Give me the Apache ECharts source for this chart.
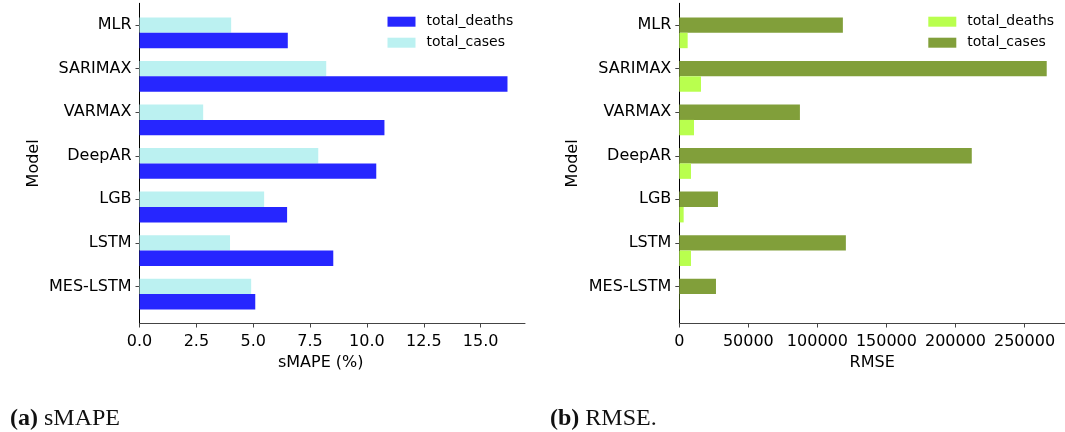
<!DOCTYPE html>
<html>
<head>
<meta charset="utf-8">
<script src="https://cdn.jsdelivr.net/npm/echarts@6/dist/echarts.min.js"></script>
<style>
  html, body { margin: 0; padding: 0; background: #fff; }
  #chart { width: 1065px; height: 432px; }
</style>
</head>
<body>
<div id="chart"></div>
<script>
// Models compared in both panels (top to bottom)
const models = ['MLR', 'SARIMAX', 'VARMAX', 'DeepAR', 'LGB', 'LSTM', 'MES-LSTM'];

// Panel (a): sMAPE (%)
const smapeDeaths = [6.52, 16.18, 10.77, 10.41, 6.49, 8.52, 5.09];
const smapeCases  = [4.03, 8.21, 2.80, 7.86, 5.48, 3.98, 4.91];

// Panel (b): RMSE
const rmseDeaths = [6050, 15700, 10640, 8470, 3160, 8470, 200];
const rmseCases  = [118450, 266060, 87340, 211790, 28000, 120620, 26560];

// Tick labels
const smapeTicks = [0, 2.5, 5, 7.5, 10, 12.5, 15];
const rmseTicks  = [0, 50000, 100000, 150000, 200000, 250000];

const FONT = 'DejaVu Sans';
const modelIdx = models.map((_, i) => i);

const panels = [
  {
    left: 139.5, width: 385.5, max: 16.95, ticks: smapeTicks,
    fmt: v => v.toFixed(1), xName: 'sMAPE (%)', namePad: [0, 23, 0, 0],
    deaths: smapeDeaths, cases: smapeCases,
    deathColor: '#2626ff', caseColor: '#bbf1f1',
    legendLeft: 387.5
  },
  {
    left: 679.3, width: 385.7, max: 279300, ticks: rmseTicks,
    fmt: v => String(v), xName: 'RMSE', namePad: [0, 0, 0, 0],
    deaths: rmseDeaths, cases: rmseCases,
    deathColor: '#b9ff4e', caseColor: '#819f3a',
    legendLeft: 928.3
  }
];

const axisTop = 3.3, axisHeight = 320.2;   // frame of the spines
const barTop = 11.0, barHeight = 304.9;    // band layout for the grouped bars

const grid = [], xAxis = [], yAxis = [], series = [], legend = [];

panels.forEach((p, k) => {
  const ga = 2 * k, gb = 2 * k + 1;
  grid.push({ left: p.left, top: axisTop, width: p.width, height: axisHeight, outerBoundsMode: 'none' });
  grid.push({ left: p.left, top: barTop, width: p.width, height: barHeight, outerBoundsMode: 'none' });

  // visible axes
  xAxis.push({
    gridIndex: ga, type: 'value', min: 0, max: p.max, position: 'bottom',
    axisLine: { show: true, onZero: false, lineStyle: { color: '#444', width: 1 } },
    axisTick: { show: true, length: 4, customValues: p.ticks, lineStyle: { color: '#444' } },
    axisLabel: { customValues: p.ticks, formatter: p.fmt, margin: 10,
                 color: '#000', fontFamily: FONT, fontSize: 16 },
    splitLine: { show: false },
    name: p.xName, nameLocation: 'middle', nameGap: 28,
    nameTextStyle: { color: '#000', fontFamily: FONT, fontSize: 16, padding: p.namePad }
  });
  yAxis.push({
    gridIndex: ga, type: 'value', inverse: true, min: -0.5, max: 6.85, position: 'left',
    axisLine: { show: true, onZero: false, lineStyle: { color: '#000', width: 1 } },
    axisTick: { show: true, length: 4, customValues: modelIdx, lineStyle: { color: '#444' } },
    axisLabel: { customValues: modelIdx, formatter: v => models[Math.round(v)], margin: 8,
                 color: '#000', fontFamily: FONT, fontSize: 16 },
    splitLine: { show: false },
    name: 'Model', nameLocation: 'middle', nameGap: 98, nameRotate: 90,
    nameTextStyle: { color: '#000', fontFamily: FONT, fontSize: 16 }
  });

  // hidden axes carrying the bars
  xAxis.push({ gridIndex: gb, type: 'value', min: 0, max: p.max, show: false });
  yAxis.push({ gridIndex: gb, type: 'category', data: models, inverse: true, show: false });

  series.push({
    name: 'total_cases', type: 'bar', xAxisIndex: gb, yAxisIndex: gb,
    data: p.cases, barWidth: 15.4, barGap: '0%', silent: true,
    itemStyle: { color: p.caseColor }
  });
  series.push({
    name: 'total_deaths', type: 'bar', xAxisIndex: gb, yAxisIndex: gb,
    data: p.deaths, barWidth: 15.4, barGap: '0%', silent: true,
    itemStyle: { color: p.deathColor }
  });

  legend.push({
    orient: 'vertical', left: p.legendLeft, top: 13.7, padding: 0,
    itemWidth: 28, itemHeight: 10, itemGap: 5, icon: 'rect', selectedMode: false,
    textStyle: { color: '#000', fontFamily: FONT, fontSize: 14, lineHeight: 16, padding: [0, 0, 0, 6] },
    data: [
      { name: 'total_deaths', itemStyle: { color: p.deathColor } },
      { name: 'total_cases', itemStyle: { color: p.caseColor } }
    ]
  });
});

const captionFont = 'Liberation Serif';
const caption = (x, tag, label) => ({
  type: 'text', left: x, top: 407,
  style: {
    text: '{b|' + tag + '} ' + label,
    rich: { b: { fontWeight: 'bold', fontFamily: captionFont, fontSize: 24, fill: '#111' } },
    fontFamily: captionFont, fontSize: 24, fill: '#111'
  }
});

const chart = echarts.init(document.getElementById('chart'), null, { renderer: 'canvas' });
chart.setOption({
  animation: false,
  backgroundColor: '#fff',
  grid, xAxis, yAxis, series, legend,
  graphic: [caption(10, '(a)', 'sMAPE'), caption(550, '(b)', 'RMSE.')]
});
</script>
</body>
</html>
